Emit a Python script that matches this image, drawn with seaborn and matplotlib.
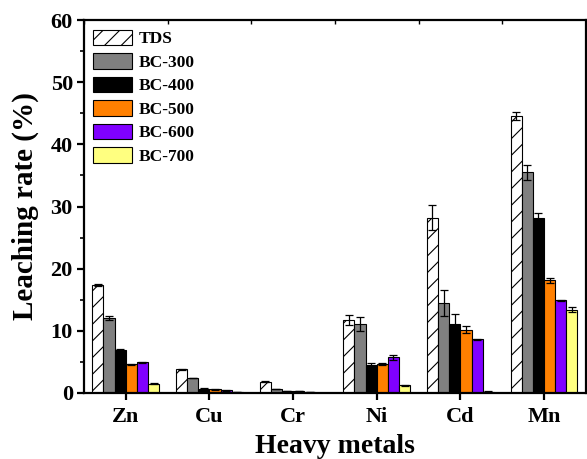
import numpy as np
import pandas as pd
import matplotlib
matplotlib.use("Agg")
import matplotlib.pyplot as plt
from matplotlib.ticker import MultipleLocator
import seaborn as sns

# data
metals = ["Zn", "Cu", "Cr", "Ni", "Cd", "Mn"]
samples = ["TDS", "BC-300", "BC-400", "BC-500", "BC-600", "BC-700"]

tds = [17.4, 3.8, 1.8, 11.8, 28.2, 44.6]
bc300 = [12.1, 2.4, 0.65, 11.1, 14.4, 35.5]
bc400 = [6.9, 0.7, 0.35, 4.5, 11.1, 28.1]
bc500 = [4.6, 0.55, 0.25, 4.65, 10.2, 18.1]
bc600 = [4.9, 0.4, 0.1, 5.7, 8.6, 14.9]
bc700 = [1.5, 0.1, 0.05, 1.2, 0.2, 13.4]

tds_err = [0.2, 0.1, 0.05, 0.8, 2.05, 0.65]
bc300_err = [0.3, 0.05, 0.05, 1.1, 2.1, 1.2]
bc400_err = [0.1, 0.05, 0.02, 0.3, 1.6, 0.8]
bc500_err = [0.1, 0.05, 0.02, 0.2, 0.55, 0.45]
bc600_err = [0.1, 0.05, 0.02, 0.4, 0.15, 0.1]
bc700_err = [0.05, 0.02, 0.01, 0.1, 0.05, 0.43]

colors = ["white", "#808080", "#000000", "#FF8000", "#8000FF", "#FFFF80"]

values = [tds, bc300, bc400, bc500, bc600, bc700]
errors = [tds_err, bc300_err, bc400_err, bc500_err, bc600_err, bc700_err]

df = pd.DataFrame({
    "metal": np.tile(metals, len(samples)),
    "sample": np.repeat(samples, len(metals)),
    "rate": np.concatenate(values),
})

sns.set_style("ticks")
plt.rcParams["font.family"] = ["Liberation Serif", "DejaVu Serif"]
plt.rcParams["font.weight"] = "bold"
plt.rcParams["hatch.linewidth"] = 0.8
plt.rcParams["text.color"] = "black"
plt.rcParams["axes.labelcolor"] = "black"
plt.rcParams["axes.edgecolor"] = "black"
plt.rcParams["xtick.color"] = "black"
plt.rcParams["ytick.color"] = "black"

fig = plt.figure(figsize=(5.87, 4.59), dpi=100)
ax = fig.add_axes([0.143, 0.144, 0.855, 0.812])

sns.barplot(data=df, x="metal", y="rate", hue="sample", order=metals,
            hue_order=samples, palette=colors, saturation=1, errorbar=None,
            edgecolor="black", linewidth=0.8, width=0.8, ax=ax, legend=False)

# hatch for the raw sludge series
for p in ax.containers[0].patches:
    p.set_hatch("//")

# error bars placed on the drawn bars
for cont, err in zip(ax.containers, errors):
    xs = [p.get_x() + p.get_width() / 2 for p in cont.patches]
    hs = [p.get_height() for p in cont.patches]
    ax.errorbar(xs, hs, yerr=err, fmt="none", ecolor="black",
                elinewidth=0.9, capsize=3, capthick=0.9)

ax.set_ylim(0, 60)
ax.set_xlim(-0.5, 5.5)
ax.yaxis.set_major_locator(MultipleLocator(10))
ax.yaxis.set_minor_locator(MultipleLocator(5))
ax.xaxis.set_minor_locator(MultipleLocator(0.5))

for s in ax.spines.values():
    s.set_linewidth(1.6)
    s.set_visible(True)
    s.set_color("black")

ax.tick_params(axis="both", which="major", direction="out", length=5,
               width=1.6, labelsize=16, pad=3)
ax.tick_params(axis="x", which="major", pad=5)
ax.tick_params(axis="x", which="minor", direction="in", length=3, width=1,
               top=True, bottom=False)
ax.tick_params(axis="y", which="minor", direction="out", length=3, width=1.2)
for lab in ax.get_xticklabels() + ax.get_yticklabels():
    lab.set_fontweight("bold")

ax.set_xlabel("Heavy metals", fontsize=20, fontweight="bold", labelpad=5)
ax.set_ylabel("Leaching rate (%)", fontsize=21, fontweight="bold", labelpad=8)

ax.legend(ax.containers, samples, loc="upper left", frameon=False,
          bbox_to_anchor=(0.0, 1.0), prop={"size": 12.5, "weight": "bold"},
          handlelength=2.2, handleheight=1.0, labelspacing=0.33,
          handletextpad=0.4, borderaxespad=0.15)

fig.savefig("out.png", dpi=100)
